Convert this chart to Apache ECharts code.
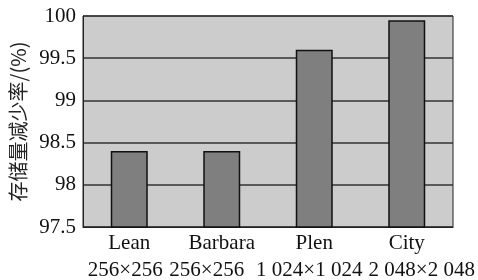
<!DOCTYPE html>
<html>
<head>
<meta charset="utf-8">
<script src="https://cdn.jsdelivr.net/npm/echarts@6/dist/echarts.min.js"></script>
<style>
  html, body { margin: 0; padding: 0; background: #fff; }
  #chart { width: 478px; height: 280px; }
</style>
</head>
<body>
<div id="chart"></div>
<script>
// 图像名称与尺寸
const names = ["Lean", "Barbara", "Plen", "City"];
const sizes = ["256×256", "256×256", "1 024×1 024", "2 048×2 048"];
// 存储量减少率 (%)
const rates = [98.4, 98.4, 99.6, 99.95];
const yTicks = [97.5, 98, 98.5, 99, 99.5, 100];

const font = "'Liberation Serif', 'Times New Roman', 'Noto Sans CJK SC', serif";
// second row in the original is not quite centred under the bars
const sizeShift = [-4, -15, -5, 15];

const rich = {
  n: { fontFamily: font, fontSize: 21, color: "#111", lineHeight: 27 }
};
sizeShift.forEach((d, i) => {
  rich["s" + i] = {
    fontFamily: font,
    fontSize: 21,
    color: "#111",
    lineHeight: 27,
    padding: d >= 0 ? [0, 0, 0, 2 * d] : [0, -2 * d, 0, 0]
  };
});

const mychart = echarts.init(document.getElementById("chart"));
const option = {
  animation: false,
  grid: {
    left: 83,
    right: 25,
    top: 16,
    bottom: 53,
    outerBoundsMode: "none",
    containLabel: false,
    show: true,
    backgroundColor: "#cccccc",
    borderColor: "#222",
    borderWidth: 1
  },
  xAxis: {
    type: "category",
    data: names,
    axisTick: { show: false },
    axisLine: { lineStyle: { color: "#222", width: 1 } },
    axisLabel: {
      interval: 0,
      color: "#111",
      fontFamily: font,
      fontSize: 21,
      margin: 3,
      formatter: (v, i) => "{n|" + v + "}\n{s" + i + "|" + sizes[i] + "}",
      rich: rich
    }
  },
  yAxis: {
    type: "value",
    min: yTicks[0],
    max: yTicks[yTicks.length - 1],
    interval: 0.5,
    name: "存储量减少率/(%)",
    nameLocation: "middle",
    nameGap: 52,
    nameTextStyle: {
      color: "#222",
      fontFamily: "'Noto Sans CJK SC', sans-serif",
      fontSize: 20
    },
    axisTick: { show: false },
    axisLine: { show: true, lineStyle: { color: "#222", width: 1 } },
    axisLabel: {
      color: "#111",
      fontFamily: font,
      fontSize: 21,
      margin: 7
    },
    splitLine: { lineStyle: { color: "#333", width: 1.5 } }
  },
  series: [
    {
      type: "bar",
      data: rates,
      barWidth: 37,
      itemStyle: {
        color: "#7f7f7f",
        borderColor: "#111",
        borderWidth: 1.5
      }
    }
  ]
};
mychart.setOption(option, true);
</script>
</body>
</html>
